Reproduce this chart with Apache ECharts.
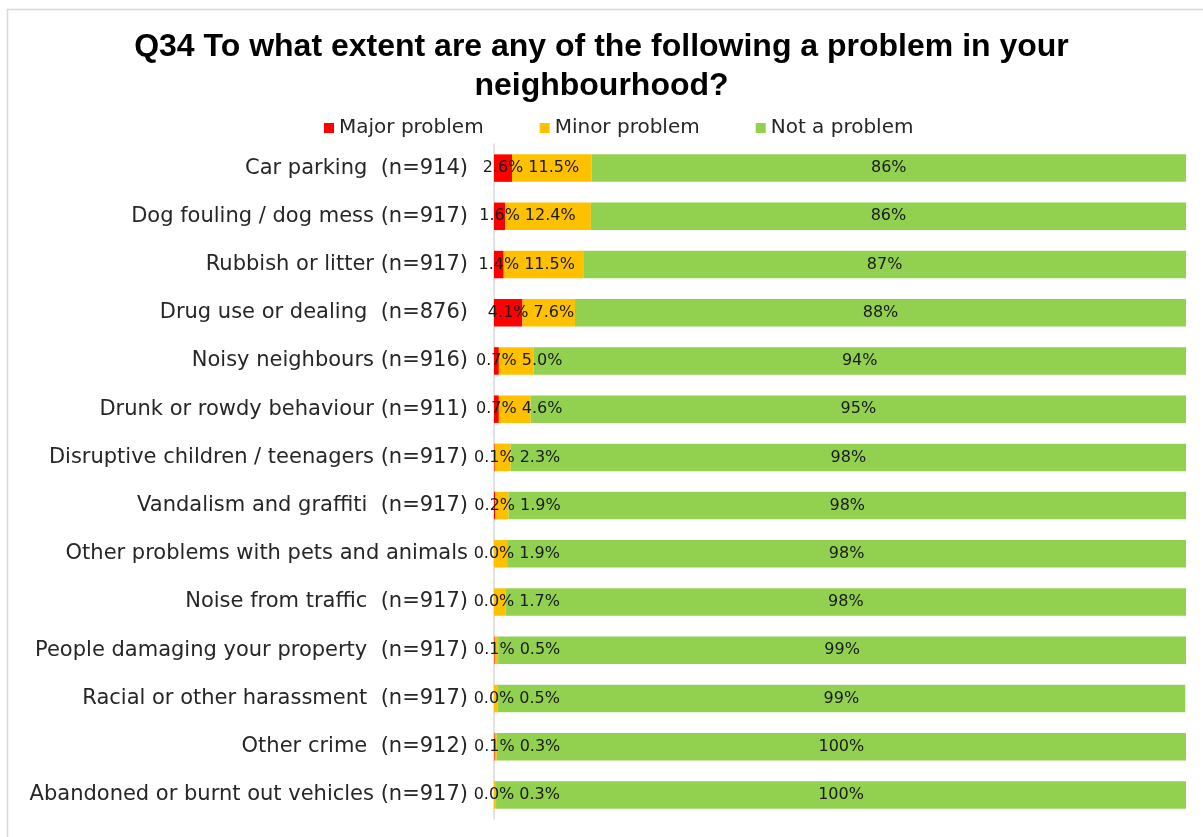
<!DOCTYPE html>
<html>
<head>
<meta charset="utf-8">
<script src="https://cdn.jsdelivr.net/npm/echarts@6/dist/echarts.min.js"></script>
<style>
html,body{margin:0;padding:0;background:#fff;}
#c{width:1203px;height:837px;}
</style>
</head>
<body>
<div id="c"></div>
<script>
var categories = [
  'Car parking  (n=914)',
  'Dog fouling / dog mess (n=917)',
  'Rubbish or litter (n=917)',
  'Drug use or dealing  (n=876)',
  'Noisy neighbours (n=916)',
  'Drunk or rowdy behaviour (n=911)',
  'Disruptive children / teenagers (n=917)',
  'Vandalism and graffiti  (n=917)',
  'Other problems with pets and animals',
  'Noise from traffic  (n=917)',
  'People damaging your property  (n=917)',
  'Racial or other harassment  (n=917)',
  'Other crime  (n=912)',
  'Abandoned or burnt out vehicles (n=917)'
];
var seriesNames = ['Major problem', 'Minor problem', 'Not a problem'];
var majorProblem = [2.6, 1.6, 1.4, 4.1, 0.7, 0.7, 0.1, 0.2, 0.0, 0.0, 0.1, 0.0, 0.1, 0.0];
var minorProblem = [11.5, 12.4, 11.5, 7.6, 5.0, 4.6, 2.3, 1.9, 1.9, 1.7, 0.5, 0.5, 0.3, 0.3];
var notAProblem = [85.9, 86.0, 87.1, 88.3, 94.3, 94.7, 97.6, 97.9, 98.1, 98.3, 99.4, 99.4, 99.6, 99.7];
var colors = ['#FF0000', '#FFC000', '#92D050'];

var FONT = 'DejaVu Sans';
var chart = echarts.init(document.getElementById('c'), null, {renderer: 'canvas'});

function fmt1(p) { return p.value.toFixed(1) + '%'; }
function fmt0(p) { return Math.round(p.value) + '%'; }

var labelStyle = {show: true, position: 'inside', color: '#1a1a1a', fontFamily: FONT, fontSize: 16};

chart.setOption({
  backgroundColor: '#ffffff',
  animation: false,
  graphic: [{
    type: 'rect', silent: true,
    shape: {x: 7.5, y: 9.5, width: 1400, height: 1000},
    style: {fill: 'none', stroke: '#d9d9d9', lineWidth: 1.5}
  }],
  title: {
    text: 'Q34 To what extent are any of the following a problem in your\nneighbourhood?',
    left: 'center', top: 23,
    textStyle: {fontFamily: 'Liberation Sans', fontWeight: 'bold', fontSize: 32, lineHeight: 39, color: '#000'}
  },
  legend: {
    top: 113, left: 319,
    itemWidth: 10, itemHeight: 10, itemGap: 56,
    icon: 'rect',
    textStyle: {fontFamily: FONT, fontSize: 20, color: '#262626'},
    data: seriesNames
  },
  grid: {left: 494, right: 17, top: 144, bottom: 18},
  xAxis: {
    type: 'value', min: 0, max: 100, show: false
  },
  yAxis: {
    type: 'category', data: categories, inverse: true,
    axisLine: {show: true, lineStyle: {color: '#d9d9d9', width: 1.5}},
    axisTick: {show: false},
    axisLabel: {fontFamily: FONT, fontSize: 21, color: '#262626', margin: 26}
  },
  series: [
    {
      name: seriesNames[0], type: 'bar', stack: 't', data: majorProblem,
      barWidth: '57%', itemStyle: {color: colors[0]},
      label: Object.assign({formatter: fmt1}, labelStyle)
    },
    {
      name: seriesNames[1], type: 'bar', stack: 't', data: minorProblem,
      itemStyle: {color: colors[1]},
      label: Object.assign({formatter: fmt1}, labelStyle),
      labelLayout: function (p) {
        var i = p.dataIndex, r = p.rect, lr = p.labelRect;
        var v = minorProblem[i];
        if (!v) return {};
        var ppu = r.width / v;
        var majW = majorProblem[i] * ppu;
        var majCenter = r.x - majW / 2;
        var majText = majorProblem[i].toFixed(1) + '%';
        var minText = v.toFixed(1) + '%';
        var majLabelW = lr.width * majText.length / minText.length;
        var desiredLeft = majCenter + majLabelW / 2 + 5;
        if (lr.x < desiredLeft) return {dx: desiredLeft - lr.x};
        return {};
      }
    },
    {
      name: seriesNames[2], type: 'bar', stack: 't', data: notAProblem,
      itemStyle: {color: colors[2]},
      label: Object.assign({formatter: fmt0}, labelStyle)
    }
  ]
});
</script>
</body>
</html>
